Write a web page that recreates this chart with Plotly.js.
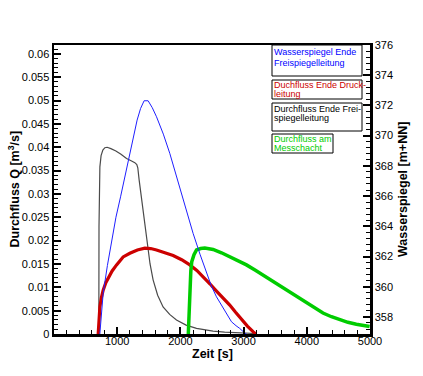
<!DOCTYPE html>
<html>
<head>
<meta charset="utf-8">
<script src="https://cdn.plot.ly/plotly-3.0.1.min.js"></script>
<style>html,body{margin:0;padding:0;background:#fff;}#chart{width:423px;height:376px;}</style>
</head>
<body>
<div id="chart"></div>
<script>
// Zeit [s] and values
const tBlue = [725, 778, 845, 911, 980, 1053, 1125, 1200, 1260, 1315, 1370, 1426, 1489, 1555, 1622, 1730, 1832, 1940, 2043, 2120, 2201, 2310, 2413, 2490, 2571, 2640, 2702, 2760, 2808, 2880, 2939, 3018, 3100];
const wspBlue = [356.86, 359.56, 361.4, 363.09, 364.6, 365.95, 367.4, 368.83, 369.95, 371.03, 371.8, 372.31, 372.31, 371.85, 371.25, 370.1, 368.83, 367.3, 365.74, 364.7, 363.53, 362.15, 360.88, 360.05, 359.33, 358.85, 358.45, 358.05, 357.68, 357.42, 357.24, 356.93, 356.7];

const tGray = [705, 710, 712, 718, 726, 745, 773, 805, 841, 900, 979, 1060, 1148, 1220, 1279, 1310, 1326, 1347, 1380, 1410, 1445, 1480, 1520, 1568, 1640, 1726, 1830, 1938, 2090, 2255, 2400, 2517, 2700, 2939, 3200];
const qGray = [0, 0.0050, 0.0229, 0.0300, 0.0358, 0.0382, 0.0394, 0.0399, 0.0400, 0.0397, 0.0392, 0.0385, 0.0376, 0.0371, 0.0367, 0.0363, 0.0356, 0.0330, 0.0295, 0.0259, 0.0222, 0.0187, 0.0150, 0.0116, 0.0083, 0.0058, 0.0042, 0.0030, 0.0019, 0.0012, 0.0008, 0.0006, 0.0004, 0.0002, 0.0001];

const tRed = [699, 712, 726, 750, 778, 820, 857, 920, 990, 1094, 1200, 1320, 1437, 1530, 1622, 1750, 1885, 2020, 2149, 2260, 2359, 2470, 2571, 2680, 2781, 2870, 2966, 3060, 3149, 3192];
const qRed = [0, 0.0030, 0.0058, 0.0078, 0.0094, 0.0110, 0.0120, 0.0135, 0.0148, 0.0165, 0.0173, 0.0180, 0.0184, 0.0183, 0.0180, 0.0175, 0.0168, 0.0159, 0.0148, 0.0136, 0.0123, 0.0107, 0.0092, 0.0077, 0.0062, 0.0047, 0.0031, 0.0017, 0.0005, 0];

const tGreen = [2125, 2140, 2155, 2165, 2180, 2215, 2255, 2320, 2386, 2450, 2517, 2650, 2781, 2910, 3045, 3180, 3308, 3440, 3572, 3700, 3836, 3994, 4130, 4256, 4390, 4520, 4650, 4784, 4900, 4994];
const qGreen = [0, 0.0060, 0.0100, 0.0135, 0.0155, 0.0170, 0.0180, 0.0183, 0.0184, 0.0183, 0.0181, 0.0174, 0.0166, 0.0157, 0.0148, 0.0137, 0.0126, 0.0115, 0.0104, 0.0093, 0.0082, 0.0068, 0.0056, 0.0045, 0.0037, 0.0030, 0.0025, 0.0021, 0.0018, 0.0016];

const xTicks = [1000, 2000, 3000, 4000, 5000];
const legendLines = [
  ["Wasserspiegel Ende", "Freispiegelleitung"],
  ["Duchfluss Ende Druck-", "leitung"],
  ["Durchfluss Ende Frei-", "spiegelleitung"],
  ["Durchfluss am", "Messchacht"]
];
const legendColors = ["#0000ff", "#cc0000", "#000000", "#00cc00"];

// layout helpers (pixel -> paper)
const L = 54, R = 370, T = 45, B = 334;
const px = x => (x - L) / (R - L);
const py = y => (B - y) / (B - T);

const boxes = [[272, 45, 362, 76], [272, 80, 362, 99], [272, 103, 362, 131], [272, 134, 333, 153]];
const lineY = [[52.5, 62.5], [85, 93.5], [108.5, 118], [139.3, 148.3]];

const traces = [
  {x: tBlue, y: wspBlue, yaxis: 'y2', mode: 'lines', line: {color: '#1f1fff', width: 1}, name: 'Wasserspiegel Ende Freispiegelleitung'},
  {x: tGray, y: qGray, mode: 'lines', line: {color: '#4a4a4a', width: 1.2}, name: 'Durchfluss Ende Freispiegelleitung'},
  {x: tRed, y: qRed, mode: 'lines', line: {color: '#cc0000', width: 3.2}, name: 'Duchfluss Ende Druckleitung'},
  {x: tGreen, y: qGreen, mode: 'lines', line: {color: '#00cc00', width: 3.5}, name: 'Durchfluss am Messchacht'}
];

const shapes = boxes.map(b => ({type: 'rect', xref: 'paper', yref: 'paper', x0: px(b[0]), x1: px(b[2]), y0: py(b[3]), y1: py(b[1]), line: {color: '#000', width: 1}, fillcolor: '#fff', layer: 'above'}));

const annotations = [];
legendLines.forEach((lines, i) => {
  lines.forEach((txt, j) => {
    annotations.push({xref: 'paper', yref: 'paper', x: px(boxes[i][0] + 0.5), y: py(lineY[i][j]), xanchor: 'left', yanchor: 'middle', text: txt, showarrow: false, font: {family: 'Liberation Sans, Arial', size: 9, color: legendColors[i]}, borderpad: 0});
  });
});
annotations.push({xref: 'paper', yref: 'paper', x: px(13), y: py(189.5), xanchor: 'center', yanchor: 'middle', textangle: -90, text: '<b>Durchfluss Q [m<sup>3</sup>/s]</b>', showarrow: false, font: {family: 'Liberation Sans, Arial', size: 12.5, color: '#000'}});
annotations.push({xref: 'paper', yref: 'paper', x: px(403), y: py(189), xanchor: 'center', yanchor: 'middle', textangle: -90, text: '<b>Wasserspiegel [m+NN]</b>', showarrow: false, font: {family: 'Liberation Sans, Arial', size: 12.5, color: '#000'}});
annotations.push({xref: 'paper', yref: 'paper', x: px(212), y: py(354), xanchor: 'center', yanchor: 'middle', text: '<b>Zeit [s]</b>', showarrow: false, font: {family: 'Liberation Sans, Arial', size: 12.5, color: '#000'}});

const axisCommon = {showgrid: false, zeroline: false, showline: true, linecolor: '#000', linewidth: 2.5, ticks: 'inside', ticklen: 7, tickwidth: 2, tickcolor: '#000', tickfont: {family: 'Liberation Sans, Arial', size: 11, color: '#000'}};

const layout = {
  width: 423, height: 376,
  margin: {l: L, r: 423 - R, t: T, b: 376 - B, pad: 0},
  paper_bgcolor: '#fff', plot_bgcolor: '#fff',
  showlegend: false,
  xaxis: Object.assign({}, axisCommon, {range: [0, 5000], tickvals: xTicks, ticktext: xTicks.map(String), mirror: true, ticklabelstandoff: -5, minor: {ticks: 'inside', ticklen: 4, tickwidth: 1, tickcolor: '#000', dtick: 200, tick0: 0}}),
  yaxis: Object.assign({}, axisCommon, {range: [0, 0.0619], dtick: 0.005, tick0: 0, minor: {ticks: 'inside', ticklen: 4, tickwidth: 1, tickcolor: '#000', dtick: 0.001, tick0: 0}}),
  yaxis2: Object.assign({}, axisCommon, {range: [356.87, 376], dtick: 2, tick0: 0, overlaying: 'y', side: 'right', minor: {ticks: 'inside', ticklen: 4, tickwidth: 1, tickcolor: '#000', dtick: 0.4, tick0: 0}}),
  shapes: shapes,
  annotations: annotations
};

Plotly.newPlot('chart', traces, layout, {displayModeBar: false, staticPlot: true});
</script>
</body>
</html>
